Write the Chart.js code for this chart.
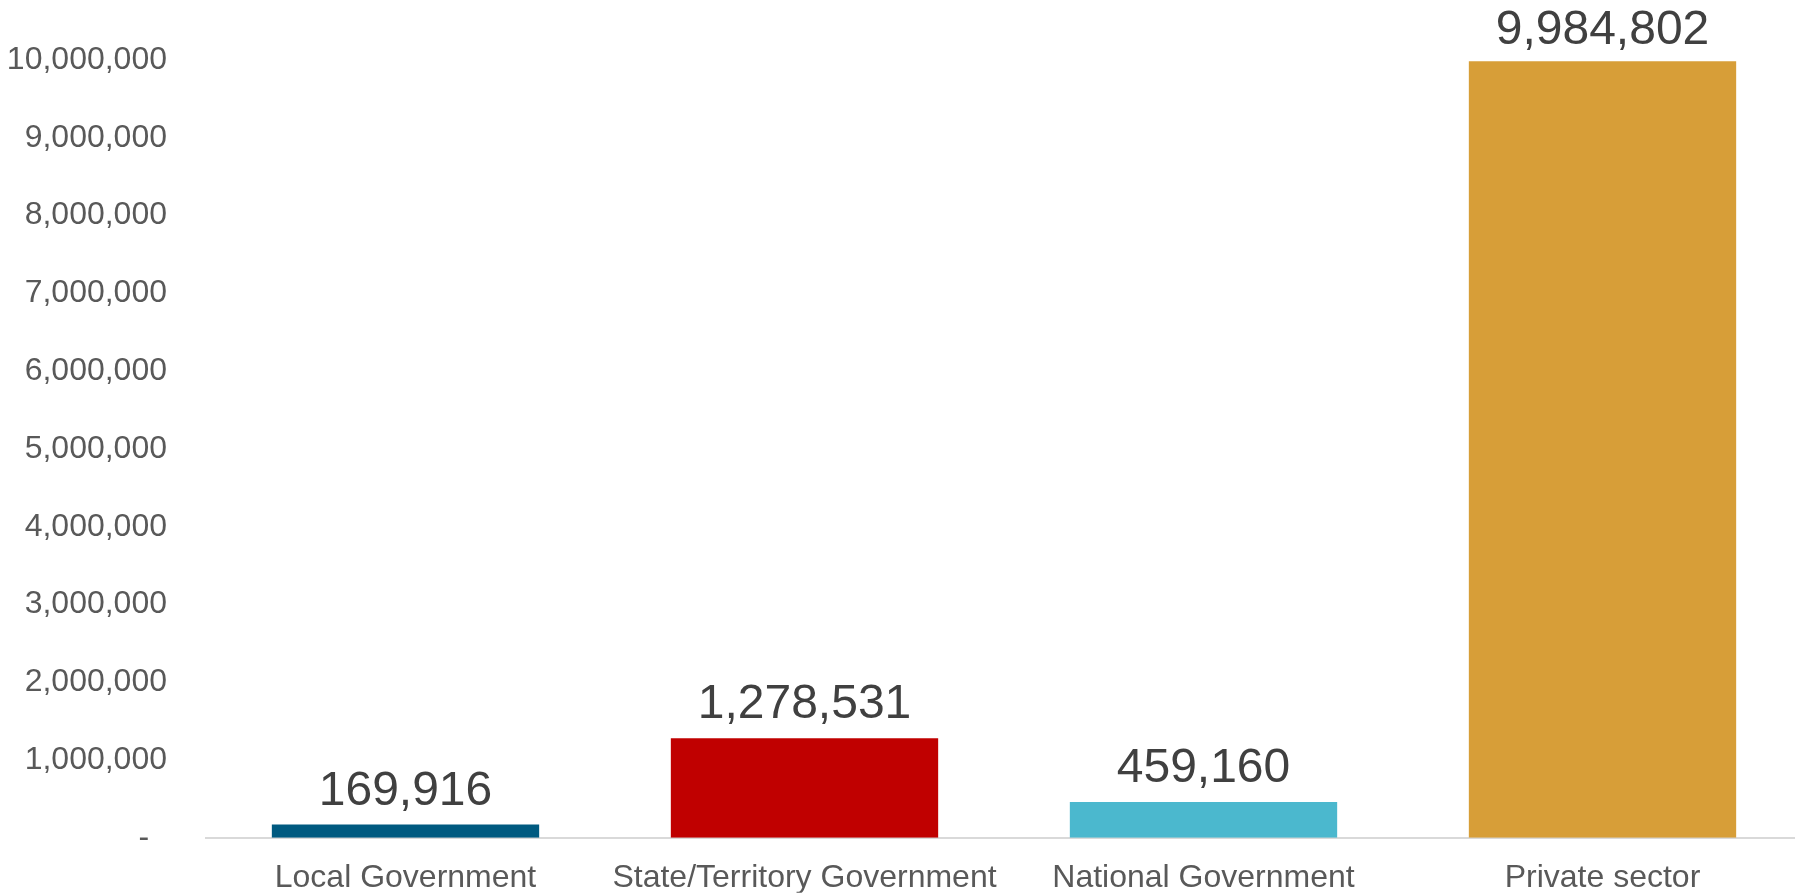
<!DOCTYPE html>
<html>
<head>
<meta charset="utf-8">
<script src="https://cdn.jsdelivr.net/npm/chart.js@4"></script>
<style>
  html, body { margin: 0; background: #fff; overflow: hidden; }
  canvas { display: block; }
</style>
</head>
<body>
<!-- plot area runs a few pixels past the right edge, as in the original -->
<canvas id="sectorChart" width="1802" height="896"></canvas>
<script>
const categories = ["Local Government", "State/Territory Government", "National Government", "Private sector"];
const values = [169916, 1278531, 459160, 9984802];
const barColors = ["#005a80", "#c00000", "#4bb8ce", "#d79e38"];
const yTicks = [0, 1000000, 2000000, 3000000, 4000000, 5000000, 6000000, 7000000, 8000000, 9000000, 10000000];

const fontFamily = "'Liberation Sans', Arial, sans-serif";

// accounting style: zero shows as a dash
function formatNum(v) {
    return v === 0 ? "-\u2007" : v.toLocaleString("en-US");
}

// draws the value above each bar
const valueLabels = {
    id: "valueLabels",
    afterDatasetsDraw(chart) {
        const ctx = chart.ctx;
        const meta = chart.getDatasetMeta(0);
        ctx.save();
        ctx.font = "48px " + fontFamily;
        ctx.fillStyle = "#404040";
        ctx.textAlign = "center";
        ctx.textBaseline = "alphabetic";
        meta.data.forEach((bar, i) => {
            let y = bar.y - 20;
            if (y < 44) y = 44;
            ctx.fillText(values[i].toLocaleString("en-US"), bar.x, y);
        });
        ctx.restore();
    }
};

new Chart(document.getElementById("sectorChart").getContext("2d"), {
    type: "bar",
    data: {
        labels: categories,
        datasets: [{
            data: values,
            backgroundColor: barColors,
            borderWidth: 0,
            categoryPercentage: 1,
            barPercentage: 0.67
        }]
    },
    options: {
        responsive: false,
        animation: false,
        devicePixelRatio: 1,
        layout: { padding: { top: 60, right: 0, left: 0, bottom: 0 } },
        plugins: {
            legend: { display: false },
            tooltip: { enabled: false }
        },
        scales: {
            y: {
                min: 0,
                max: 10000000,
                afterFit: scale => { scale.width = 206; },
                afterBuildTicks: scale => { scale.ticks = yTicks.map(v => ({ value: v })); },
                grid: { display: false, drawTicks: false },
                border: { display: false },
                ticks: {
                    padding: 39,
                    color: "#595959",
                    font: { family: fontFamily, size: 32 },
                    callback: v => formatNum(v)
                }
            },
            x: {
                afterFit: scale => { scale.height = 55; },
                grid: { display: false, drawTicks: false },
                border: { display: true, color: "#d9d9d9", width: 2 },
                ticks: {
                    padding: 21,
                    maxRotation: 0,
                    autoSkip: false,
                    color: "#595959",
                    font: { family: fontFamily, size: 32 }
                }
            }
        }
    },
    plugins: [valueLabels]
});
</script>
</body>
</html>
